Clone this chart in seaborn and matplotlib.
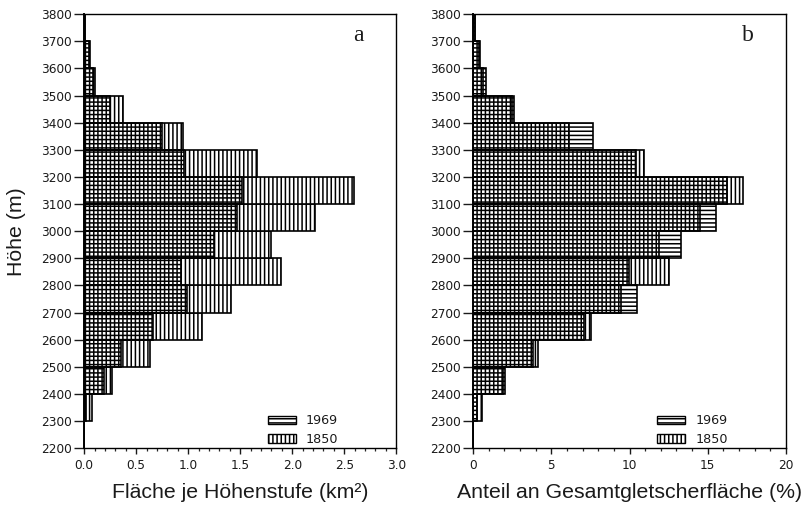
import matplotlib
matplotlib.use("Agg")
import matplotlib.pyplot as plt
from matplotlib.patches import Patch
from matplotlib.ticker import MultipleLocator, FormatStrFormatter
import seaborn as sns

# Elevation bands (lower bound, m a.s.l.), 100 m steps
band_lower = [2200, 2300, 2400, 2500, 2600, 2700, 2800, 2900,
              3000, 3100, 3200, 3300, 3400, 3500, 3600, 3700]

# Glacier area per elevation band (km²)
area_1850 = [0.0, 0.075, 0.27, 0.63, 1.13, 1.41, 1.89, 1.80,
             2.22, 2.59, 1.66, 0.95, 0.37, 0.10, 0.06, 0.01]
area_1969 = [0.0, 0.02, 0.19, 0.35, 0.66, 0.985, 0.93, 1.25,
             1.47, 1.52, 0.96, 0.745, 0.25, 0.08, 0.05, 0.01]

# Share of the total glacier area (%)
share_1850 = [0.0, 0.55, 1.9, 4.15, 7.55, 9.45, 12.5, 11.85,
              14.5, 17.25, 10.9, 6.1, 2.5, 0.65, 0.4, 0.1]
share_1969 = [0.0, 0.25, 2.05, 3.8, 7.1, 10.5, 9.95, 13.3,
              15.5, 16.2, 10.4, 7.65, 2.6, 0.8, 0.45, 0.1]

years = ["1969", "1850"]
hatch_1850 = "||||"
hatch_1969 = "----"

sns.set_style("ticks")
plt.rcParams["font.family"] = ["DejaVu Sans"]
plt.rcParams["hatch.linewidth"] = 1.1
plt.rcParams["hatch.color"] = "black"
plt.rcParams["axes.linewidth"] = 1.0
plt.rcParams["axes.edgecolor"] = "black"

band_mid = [b + 50 for b in band_lower]

fig = plt.figure(figsize=(8.02, 5.07), dpi=100)
ax_a = fig.add_axes([0.105, 0.116, 0.389, 0.856])
ax_b = fig.add_axes([0.590, 0.116, 0.390, 0.856])

label_font = dict(family=["Liberation Sans"], size=15.3, color="#1a1a1a")


def draw_panel(ax, v1850, v1969, xmax, xmajor, xminor, fmt, xlabel, tag):
    # older extent first (vertical hatch), newer on top (horizontal hatch)
    n0 = len(ax.patches)
    sns.barplot(x=v1850, y=band_mid, orient="y", native_scale=True,
                width=1.0, color="white", errorbar=None, ax=ax)
    for p in ax.patches[n0:]:
        p.set_facecolor("white")
        p.set_edgecolor("black")
        p.set_linewidth(1.2)
        p.set_hatch(hatch_1850)
    n1 = len(ax.patches)
    sns.barplot(x=v1969, y=band_mid, orient="y", native_scale=True,
                width=1.0, color="white", errorbar=None, ax=ax)
    for p in ax.patches[n1:]:
        p.set_facecolor("none")
        p.set_edgecolor("black")
        p.set_linewidth(1.2)
        p.set_hatch(hatch_1969)

    ax.set_xlim(0, xmax)
    ax.set_ylim(2200, 3800)
    ax.yaxis.set_major_locator(MultipleLocator(100))
    ax.yaxis.set_major_formatter(FormatStrFormatter("%d"))
    ax.xaxis.set_major_locator(MultipleLocator(xmajor))
    ax.xaxis.set_minor_locator(MultipleLocator(xminor))
    ax.xaxis.set_major_formatter(FormatStrFormatter(fmt))
    ax.tick_params(axis="y", which="major", length=7, width=1.0,
                   labelsize=8.7, pad=2, colors="#1a1a1a")
    ax.tick_params(axis="x", which="major", length=4.5, width=1.0,
                   labelsize=8.7, pad=3.5, colors="#1a1a1a")
    ax.tick_params(axis="x", which="minor", length=2.5, width=0.9)
    for s in ax.spines.values():
        s.set_visible(True)
        s.set_color("black")
        s.set_linewidth(1.0)
    ax.spines["left"].set_linewidth(1.4)

    ax.set_xlabel(xlabel, labelpad=8, **label_font)
    ax.set_ylabel("")
    ax.text(0.878, 0.95, tag, transform=ax.transAxes, ha="center",
            va="center", family=["Liberation Serif"], size=17,
            color="#1a1a1a")

    handles = [Patch(facecolor="white", edgecolor="black", linewidth=1.0,
                     hatch=hatch_1969),
               Patch(facecolor="white", edgecolor="black", linewidth=1.0,
                     hatch=hatch_1850)]
    leg = ax.legend(handles, years, loc="upper left",
                    bbox_to_anchor=(0.588, 0.078), frameon=False,
                    borderpad=0, borderaxespad=0, handlelength=2.2,
                    handleheight=0.65, handletextpad=0.8,
                    labelspacing=0.45, fontsize=9.2)
    for t in leg.get_texts():
        t.set_color("#1a1a1a")


draw_panel(ax_a, area_1850, area_1969, 3.0, 0.5, 0.1, "%.1f",
           "Fläche je Höhenstufe (km²)", "a")
draw_panel(ax_b, share_1850, share_1969, 20, 5, 1, "%d",
           "Anteil an Gesamtgletscherfläche (%)", "b")

ax_a.set_ylabel("Höhe (m)", labelpad=11, **label_font)

fig.savefig("out.png", dpi=100, facecolor="white")
